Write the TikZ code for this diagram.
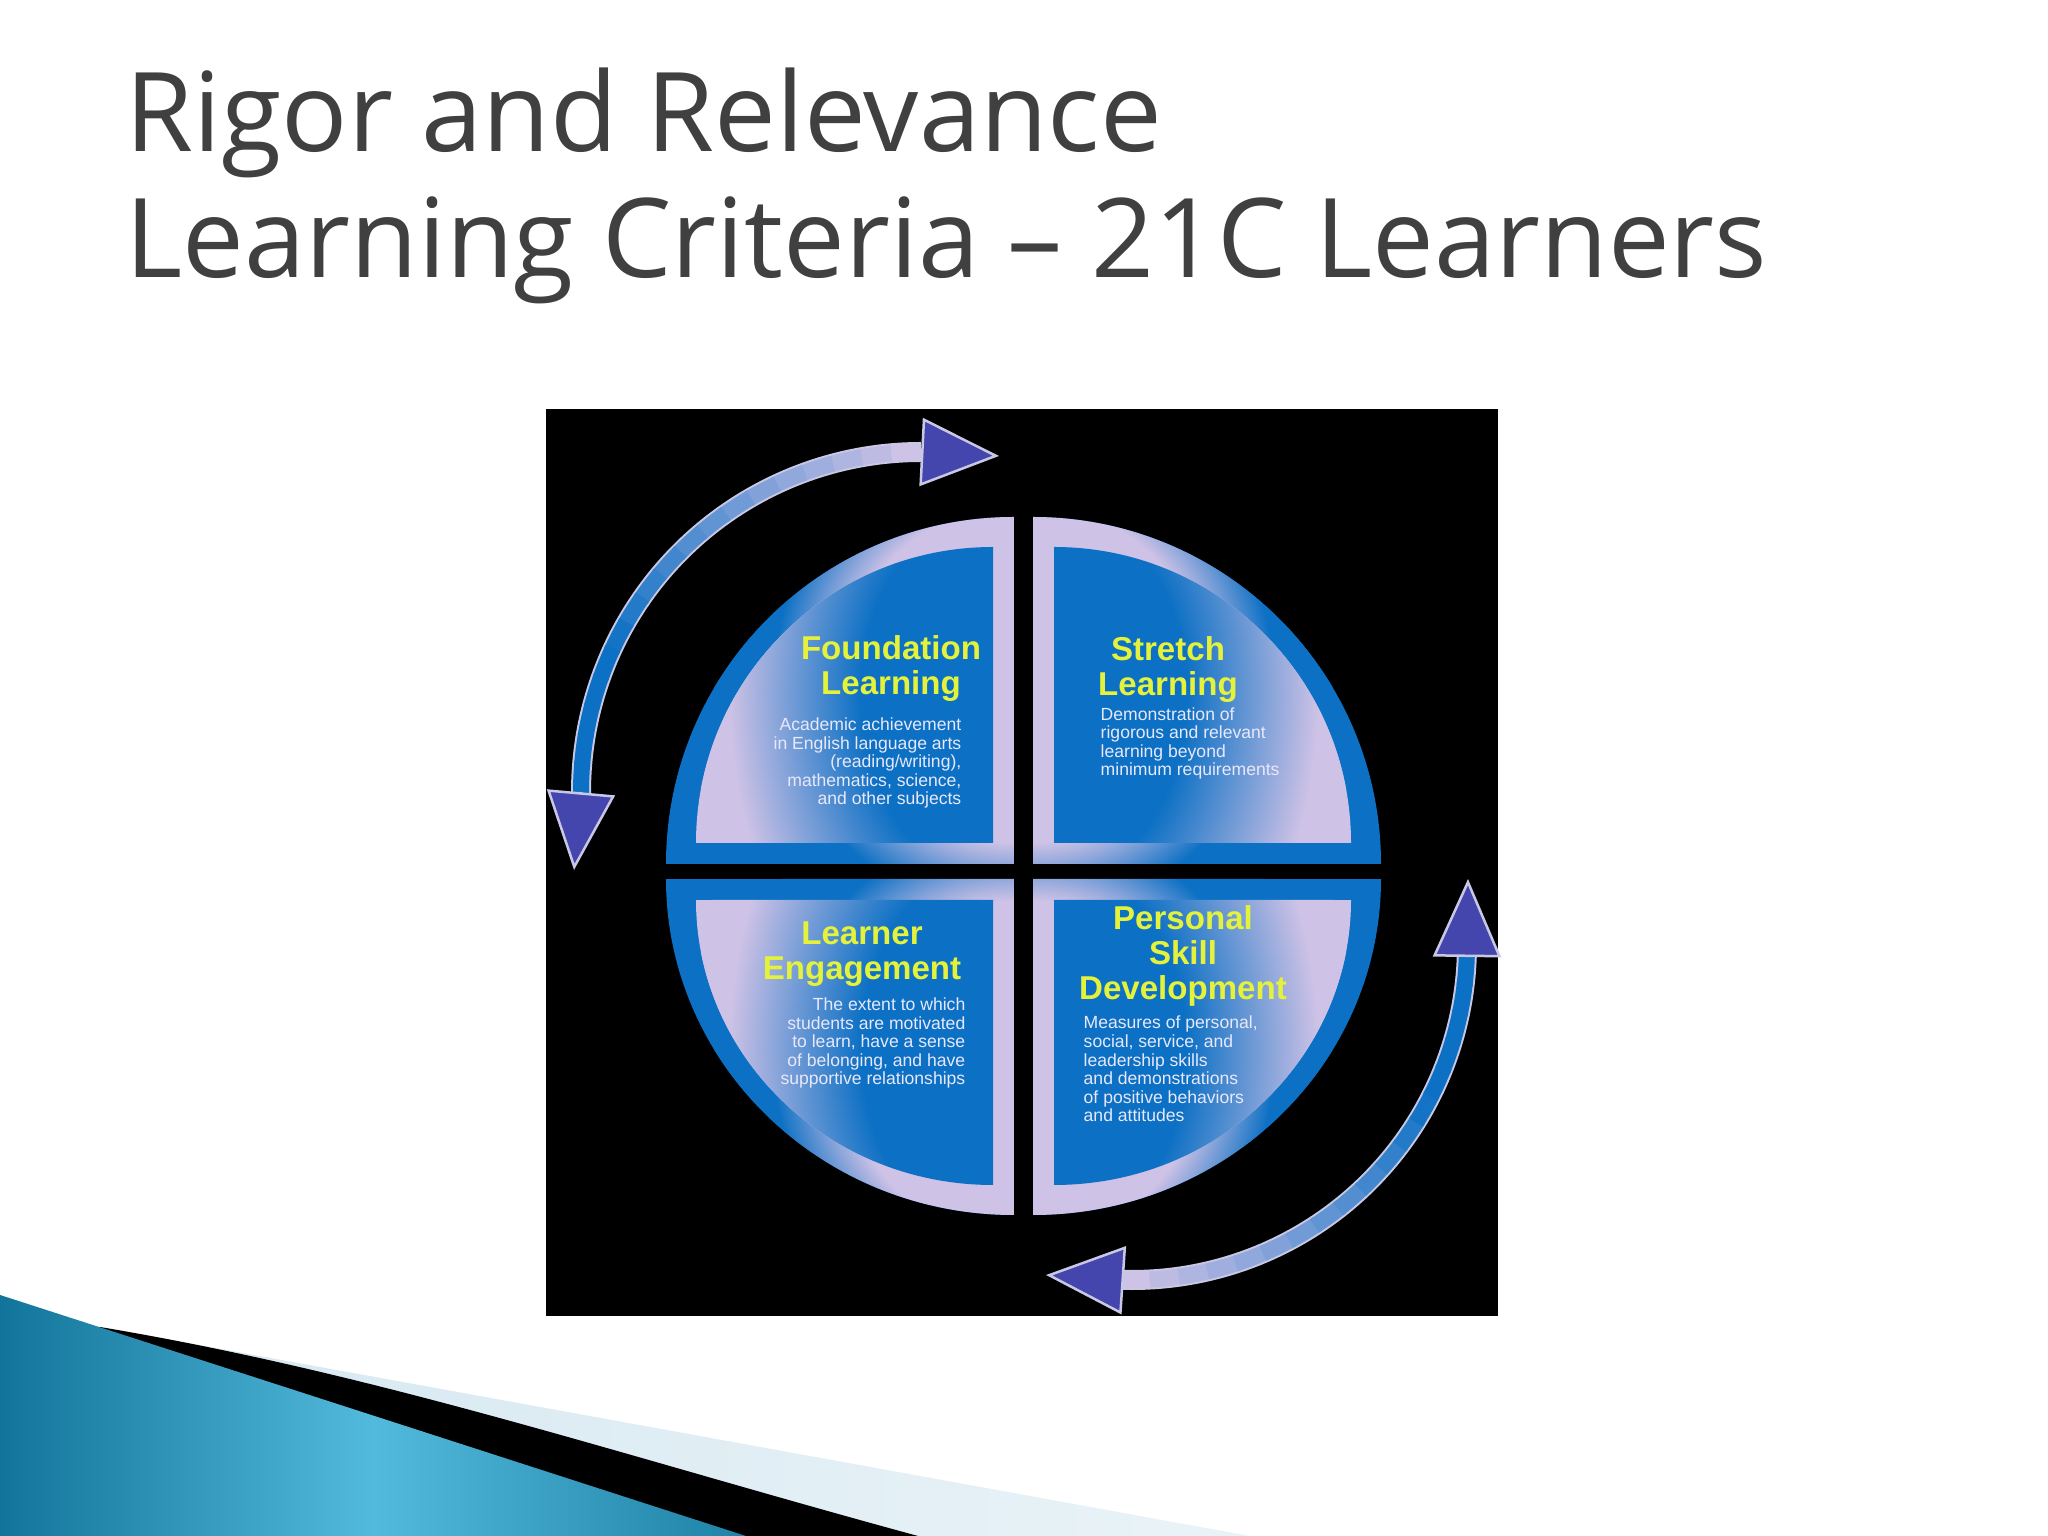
\documentclass[tikz,border=0pt]{standalone}
\usepackage{fontspec}
\setmainfont{Liberation Sans}
\newfontfamily\titlefont{Open Sans}
\usetikzlibrary{arrows.meta,calc}
\definecolor{lav}{RGB}{206,194,230}
\definecolor{blu}{RGB}{12,112,196}
\definecolor{headc}{RGB}{68,70,174}
\definecolor{rim}{RGB}{200,200,228}
\definecolor{ylw}{RGB}{228,242,60}
\definecolor{bodyc}{RGB}{232,232,250}
\definecolor{titlec}{RGB}{64,64,64}
\definecolor{tealdark}{RGB}{18,116,154}
\definecolor{teallight}{RGB}{82,186,220}
\definecolor{pale}{RGB}{212,231,240}
\pgfdeclareradialshading{framesh}{\pgfpointorigin}{color(0bp)=(lav); color(14bp)=(lav); color(20bp)=(blu); color(50bp)=(blu)}
\pgfdeclareradialshading{panelsh}{\pgfpointorigin}{color(0bp)=(blu); color(11bp)=(blu); color(22bp)=(lav); color(50bp)=(lav)}
\tikzset{
    titletext/.style = {font = \titlefont\fontsize{31.3}{37}\selectfont, text = titlec, inner sep = 0, anchor = base west},
    heading/.style = {font = \bfseries\fontsize{9.4}{10}\selectfont, text = ylw, inner sep = 0, align = center, anchor = base},
    blurb/.style = {font = \fontsize{5}{5.3}\selectfont, text = bodyc, inner sep = 0},
    shaft/.style = {line width = 1.6mm},
    rimline/.style = {line width = 2mm, rim},
    cyclehead/.style = {-{Triangle[length = 7.8mm, width = 6.8mm, fill = headc]}, draw = rim, line width = 0.25mm},
}
\begin{document}
\begin{tikzpicture}[x = 0.01cm, y = 0.01cm]
        \useasboundingbox (0,0) rectangle (2048,1536);
        \fill[white] (0,0) rectangle (2048,1536);
        \shade[left color = pale, right color = pale!50!white] (100,209) -- (1250,0) -- (0,0) -- cycle;
        \fill[black] (100,209) .. controls (380,162) and (620,81) .. (918,0) -- (0,0) -- cycle;
        \shade[left color = tealdark, right color = tealdark!80!teallight, middle color = teallight] (0,241) -- (746,0) -- (0,0) -- cycle;
        \node[titletext] (rigor) at (125,1384) {Rigor and Relevance};
        \node[titletext] (criteria) at (125,1258) {Learning Criteria – 21C Learners};
        \fill[black] (546,220) rectangle (1498,1127);
        \foreach \qx/\qy/\sx/\sy/\ry in {1014/672/-1/1/347, 1033/672/1/1/347, 1014/657/-1/-1/336, 1033/657/1/-1/336} {
            \begin{scope}[shift = {(\qx,\qy)}, xscale = \sx, yscale = \sy]
                \begin{scope}
                    \clip (0,0) -- (348,0) arc[start angle = 0, end angle = 90, x radius = 348, y radius = \ry] -- cycle;
                    \fill[blu] (0,0) rectangle (350,350);
                    \shade[shading = framesh] (0,190) circle[radius = 300];
                \end{scope}
                \begin{scope}
                    \clip (21,21) -- (318,21) arc[start angle = 0, end angle = 90, x radius = 297, y radius = \ry-51] -- cycle;
                    \fill[lav] (21,21) rectangle (320,320);
                    \shade[shading = panelsh] (21,170) ellipse[x radius = 300, y radius = 420];
                \end{scope}
            \end{scope}
        }
        \coordinate (tlO) at (921,744);
        \coordinate (brO) at (1132,591);
        \draw[rimline] ($(tlO)+(90:340)$) arc[start angle = 90, end angle = 180.6, radius = 340];
        \draw[rimline] ($(brO)+(-92:335)$) arc[start angle = -92, end angle = -1.4, radius = 335];
        \foreach \i in {0,...,17} {
            \pgfmathtruncatemacro\pct{min(100,8*\i)}
            \draw[shaft, blu!\pct!lav] ($(tlO)+(90+5*\i:340)$) arc[start angle = 90+5*\i, end angle = 95.6+5*\i, radius = 340];
            \draw[shaft, blu!\pct!lav] ($(brO)+(-92+5*\i:335)$) arc[start angle = -92+5*\i, end angle = -86.4+5*\i, radius = 335];
        }
        \coordinate (tlBaseA) at (921,1084);
        \coordinate (tlTipA) at (999,1080);
        \coordinate (tlBaseB) at (581,744);
        \coordinate (tlTipB) at (574,666);
        \coordinate (brBaseA) at (1467,579);
        \coordinate (brTipA) at (1468,657);
        \coordinate (brBaseB) at (1120,256);
        \coordinate (brTipB) at (1046,261);
        \draw[cyclehead] (tlBaseA) -- (tlTipA);
        \draw[cyclehead] (tlBaseB) -- (tlTipB);
        \draw[cyclehead] (brBaseA) -- (brTipA);
        \draw[cyclehead] (brBaseB) -- (brTipB);
        \node[heading] (foundation) at (891,841) {Foundation\\Learning};
        \node[blurb, align = right, anchor = base east] (foundationtext) at (962,731) {Academic achievement\\in English language arts\\(reading/writing),\\mathematics, science,\\and other subjects};
        \node[heading] (stretch) at (1168,840) {Stretch\\Learning};
        \node[blurb, align = left, anchor = base west] (stretchtext) at (1100,760) {Demonstration of\\rigorous and relevant\\learning beyond\\minimum requirements};
        \node[heading] (engagement) at (862,556) {Learner\\Engagement};
        \node[blurb, align = right, anchor = base east] (engagementtext) at (966,451) {The extent to which\\students are motivated\\to learn, have a sense\\of belonging, and have\\supportive relationships};
        \node[heading] (personal) at (1183,536) {Personal\\Skill\\Development};
        \node[blurb, align = left, anchor = base west] (personaltext) at (1083,414) {Measures of personal,\\social, service, and\\leadership skills\\and demonstrations\\of positive behaviors\\and attitudes};
\end{tikzpicture}
\end{document}
